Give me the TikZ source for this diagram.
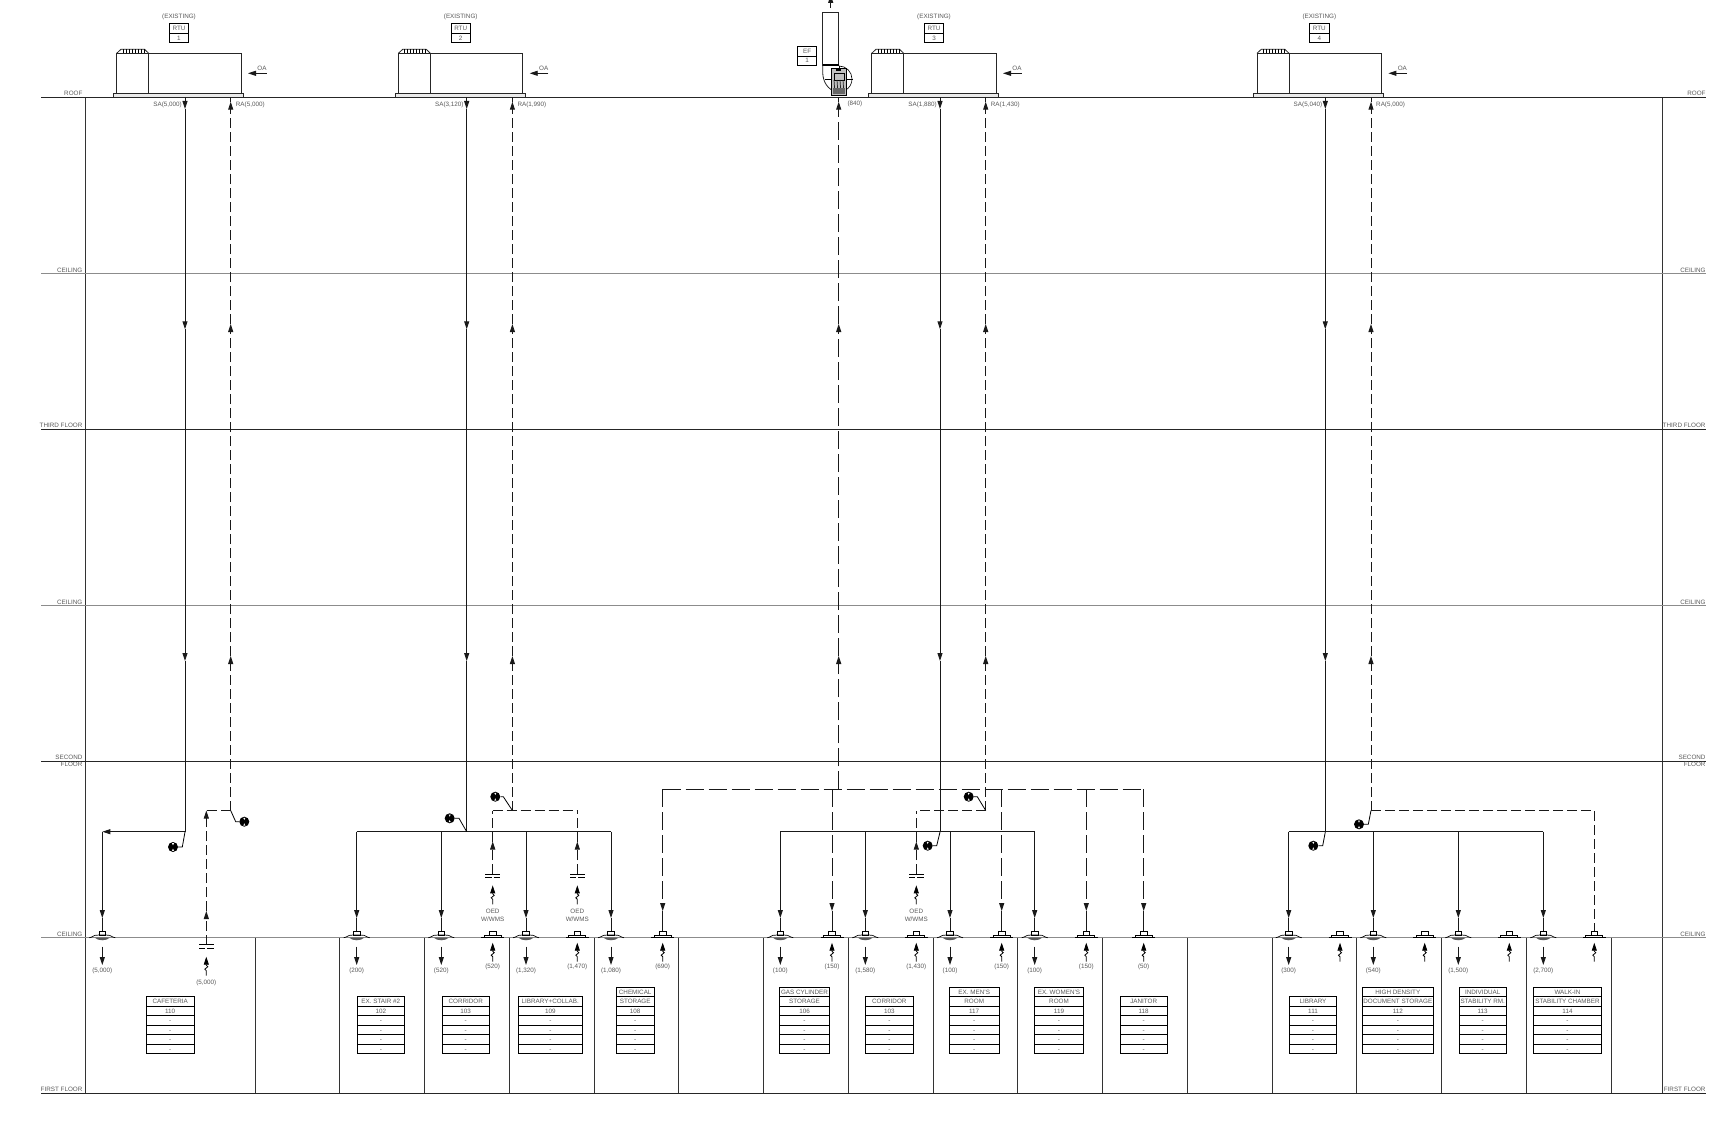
\documentclass[tikz,border=0pt]{standalone}
\usepackage{fontspec}
\setmainfont{Liberation Sans}
\usetikzlibrary{positioning,arrows.meta}

\tikzset{
  diffuser/.pic={
    \draw[line width=.7pt] (-3.3,-6.4) rectangle (3.3,-2.7);
    \draw[line width=.7pt] (-13,0) -- (-11,-.5) .. controls (-9,-2.4) and (-6,-2.7) .. (-3.3,-2.7) -- (3.3,-2.7) .. controls (6,-2.7) and (9,-2.4) .. (11,-.5) -- (13,0);
    \fill[black!65] (-7.5,0) .. controls (-4,3.4) and (4,3.4) .. (7.5,0) -- cycle;
  },
  grille/.pic={
    \draw[line width=.7pt] (-3.3,-6.4) rectangle (3.3,-2.4);
    \draw[line width=.7pt] (-8.5,0) -- (-8.5,-2.4) -- (8.5,-2.4) -- (8.5,0);
    \draw[line width=.7pt] (-11.5,-.2) -- (11.5,-.2);
  },
  zigtip/.pic={
    \draw[line width=.8pt,-{Triangle[length=8pt,width=5pt]}] (0,19) -- (0,14) -- (-1.5,12.5) -- (1.5,10) -- (0,8.5) -- (0,0);
  },
  caps/.pic={
    \draw[line width=.8pt] (-7.3,0) -- (7.3,0);
    \draw[line width=.8pt,dash pattern=on 6.3pt off 2pt] (-7.3,3.6) -- (7.3,3.6);
  }
}

% unit on the roof, with its two risers
\newcommand{\rtuunit}[3]{%
\begin{scope}[shift={(#2,0)}]
  \draw[unit, fill=black!8] (113.3,93.3) rectangle (243.3,97.3);
  \draw[unit] (116.7,93.3) -- (116.7,53.3) -- (241,53.3) -- (241,93.3);
  \draw[unit] (148.7,53.3) -- (148.7,93.3);
  \draw[unit] (116.7,53.3) -- (121,49.3) -- (144.5,49.3) -- (148.7,53.3);
  \foreach \t in {123,126,...,144} \draw[line width=.7pt] (\t,49.3) -- (\t,53.3);
  \node[lbl] (#1ex) at (179,17) {(EXISTING)};
  \node[tagrow, minimum width=19.4pt] (#1tagb) at (179,38) {#3};
  \node[tagrow, minimum width=19.4pt, above=0pt of #1tagb] (#1taga) {RTU};
  \coordinate (#1oab) at (266.7,73.3);
  \coordinate (#1oaa) at (248,73.3);
  \draw[duct, flow] (#1oab) -- (#1oaa);
  \node[lbl] (#1oa) at (262,68.3) {OA};
  \coordinate (#1sa) at (185,97.3);
  \coordinate (#1sa1) at (185,109);
  \coordinate (#1sa2) at (185,329.3);
  \coordinate (#1sa3) at (185,661);
  \coordinate (#1sb) at (185,831.7);
  \coordinate (#1ra) at (230.7,97.3);
  \coordinate (#1ra1) at (230.7,101.7);
  \coordinate (#1ra2) at (230.7,324);
  \coordinate (#1ra3) at (230.7,656);
  \coordinate (#1rb) at (230.7,810.5);
  \draw[duct, flow] (#1sa) -- (#1sa1);
  \draw[duct, flow] (#1sa1) -- (#1sa2);
  \draw[duct, flow] (#1sa2) -- (#1sa3);
  \draw[duct] (#1sa3) -- (#1sb);
  \draw[retn, flow] (#1rb) -- (#1ra3);
  \draw[retn, flow] (#1ra3) -- (#1ra2);
  \draw[retn] (#1ra2) -- (230.7,110);
  \draw[duct, flow] (230.7,110) -- (#1ra1);
  \draw[duct] (#1ra1) -- (#1ra);
\end{scope}}

% supply diffuser at the ceiling
\newcommand{\supplydrop}[4]{%
  \coordinate (#1top) at (#2,#4);
  \coordinate (#1tip) at (#2,918);
  \coordinate (#1) at (#2,931.3);
  \draw[duct, flow] (#1top) -- (#1tip);
  \draw[duct] (#1tip) -- (#1);
  \pic at (#2,937.7) {diffuser};
  \coordinate (#1a) at (#2,946.7);
  \coordinate (#1b) at (#2,965);
  \draw[duct, flow] (#1a) -- (#1b);
  \node[lbl] (#1lbl) at (#2,971) {#3};
}

% return grille at the ceiling
\newcommand{\grilleat}[2]{%
  \coordinate (#1) at (#2,931.3);
  \pic at (#2,937.7) {grille};
  \pic at (#2,942.7) {zigtip};
}

% room schedule, from the bottom row upward
\newcommand{\roomtag}[5]{%
  \node[tagrow, minimum width=#3pt, anchor=south] (#1a) at (#2,1053.7) {-};
  \node[tagrow, minimum width=#3pt, above=0pt of #1a] (#1b) {-};
  \node[tagrow, minimum width=#3pt, above=0pt of #1b] (#1c) {-};
  \node[tagrow, minimum width=#3pt, above=0pt of #1c] (#1d) {-};
  \node[tagrow, minimum width=#3pt, above=0pt of #1d] (#1e) {#4};
  \node[tagrow, minimum width=#3pt, above=0pt of #1e] (#1f) {#5};
}
\newcommand{\roomtop}[3]{%
  \node[tagrow, minimum width=#2pt, above=0pt of #1f] (#1g) {#3};
}

% damper bullet with its leader
\newcommand{\damper}[6]{%
  \node[damp] (#1) at (#2,#3) {};
  \fill[white] (#2-1,#3-3.8) -- (#2+1,#3-3.8) -- (#2,#3-1.6) -- cycle;
  \fill[white] (#2-1,#3+3.8) -- (#2+1,#3+3.8) -- (#2,#3+1.6) -- cycle;
  \coordinate (#1k) at (#4,#3);
  \draw[line width=.8pt] (#1) -- (#1k) -- (#5,#6);
}

% offset (OED) caps, riser arrow and labels
\newcommand{\oedcap}[3]{%
  \coordinate (#1) at (#2,874);
  \coordinate (#1tip) at (#2,841.5);
  \coordinate (#1top) at (#2,#3);
  \pic at (#1) {caps};
  \pic at (#2,885.3) {zigtip};
  \draw[retn, flow] (#1) -- (#1tip);
  \draw[retn] (#1tip) -- (#1top);
  \node[lbl] (#1la) at (#2,911.7) {OED};
  \node[lbl] (#1lb) at (#2,919.7) {W/WMS};
}

\begin{document}
\begin{tikzpicture}[x=1pt,y=-1pt]
\tikzstyle{level} = [line width=.8pt, black!85]
\tikzstyle{ceil} = [line width=.8pt, black!45]
\tikzstyle{wall} = [line width=.8pt, black!80]
\tikzstyle{unit} = [line width=.8pt, black!85]
\tikzstyle{duct} = [line width=.9pt, black!90]
\tikzstyle{retn} = [line width=.9pt, black!90, dash pattern=on 10pt off 4pt]
\tikzstyle{exhs} = [line width=.9pt, black!90, dash pattern=on 18pt off 5pt]
\tikzstyle{flow} = [-{Triangle[length=8pt,width=5pt]}]
\tikzstyle{lbl} = [font=\fontsize{6.3}{7}\selectfont, text=black!65, inner sep=0pt]
\tikzstyle{tagrow} = [draw, line width=.8pt, font=\fontsize{6.3}{7}\selectfont, text=black!65, inner sep=0pt, outer sep=0pt, minimum height=9.5pt, text height=4.6pt, text depth=0pt]
\tikzstyle{damp} = [circle, fill=black, inner sep=0pt, minimum size=10pt]

\useasboundingbox (0,0) rectangle (1727,1121);
\fill[white] (0,0) rectangle (1727,1121);

% levels
\coordinate (wl) at (85.7,97.3);
\coordinate (wlb) at (85.7,1093);
\coordinate (wr) at (1662,97.3);
\coordinate (wrb) at (1662,1093);
\draw[wall] (wl) -- (wlb);
\draw[wall] (wr) -- (wrb);
\foreach \y/\s/\t in {97.3/level/ROOF, 273.6/ceil/CEILING, 429/level/THIRD FLOOR, 605.5/ceil/CEILING, 937.7/ceil/CEILING, 1093/level/FIRST FLOOR} {
  \draw[\s] (41,\y) -- (1705.7,\y);
  \node[lbl, anchor=east] (ll\y) at (82.6,\y-3.6) {\t};
  \node[lbl, anchor=east] (lr\y) at (1705.7,\y-3.6) {\t};
}
\draw[level] (41,761) -- (1705.7,761);
\node[lbl, anchor=east] (lsa) at (82.6,757.8) {SECOND};
\node[lbl, anchor=east] (lsb) at (82.6,764.4) {FLOOR};
\node[lbl, anchor=east] (rsa) at (1705.7,757.8) {SECOND};
\node[lbl, anchor=east] (rsb) at (1705.7,764.4) {FLOOR};

% room walls
\foreach \x in {255,339.7,424.7,509.3,594.3,678.7,763.3,848.3,933,1017.7,1102.3,1187.3,1272,1356.7,1441.3,1526.3,1611}
  \draw[wall] (\x,937.7) -- (\x,1093);

% units
\rtuunit{one}{0}{1}
\rtuunit{two}{281.7}{2}
\rtuunit{thr}{755}{3}
\rtuunit{fou}{1140.3}{4}
\node[lbl, anchor=east] (sa1) at (182,105) {SA(5,000)};
\node[lbl, anchor=west] (ra1) at (235.7,105) {RA(5,000)};
\node[lbl, anchor=east] (sa2) at (463.7,105) {SA(3,120)};
\node[lbl, anchor=west] (ra2) at (517.4,105) {RA(1,990)};
\node[lbl, anchor=east] (sa3) at (937,105) {SA(1,880)};
\node[lbl, anchor=west] (ra3) at (990.7,105) {RA(1,430)};
\node[lbl, anchor=east] (sa4) at (1322.3,105) {SA(5,040)};
\node[lbl, anchor=west] (ra4) at (1376,105) {RA(5,000)};

% exhaust fan
\draw[unit] (822.7,65) rectangle (838.7,12.3);
\draw[line width=1.5pt] (822.7,65) -- (838.7,65);
\coordinate (ef) at (830.7,8);
\coordinate (efo) at (830.7,-5);
\draw[duct, flow] (ef) -- (efo);
\draw[unit] (822.7,65) -- (822.7,72) .. controls (822.7,82) and (828,90) .. (836.7,92);
\draw[line width=.6pt] (839,66) arc (-90:60:13);
\draw[line width=.5pt] (825,79) -- (853,79);
\draw[line width=.5pt] (839,66) -- (839,95);
\draw[line width=.9pt, fill=black!25] (831,68.3) rectangle (846.7,95);
\fill[black] (836,69.5) rectangle (841,71.5);
\draw[line width=.6pt] (834,73) rectangle (844,80);
\foreach \t in {834,837,840,843} \draw[line width=.7pt, black!85] (\t,80) -- (\t+1,94);
\fill[black!60] (833,88) rectangle (845,94.5);
\node[tagrow, minimum width=19pt] (efb) at (807.2,60.7) {1};
\node[tagrow, minimum width=19pt, above=0pt of efb] (efa) {EF};
\node[lbl, anchor=west] (ef840) at (847.3,103.7) {(840)};
\coordinate (exa) at (838.7,97.3);
\coordinate (exb) at (838.7,101.7);
\coordinate (exc) at (838.7,324);
\coordinate (exd) at (838.7,656);
\coordinate (exe) at (838.7,789.3);
\draw[exhs, flow] (exe) -- (exd);
\draw[exhs, flow] (exd) -- (exc);
\draw[exhs] (exc) -- (838.7,110);
\draw[duct, flow] (838.7,110) -- (exb);
\draw[duct] (exb) -- (exa);

% unit 1 : cafeteria
\coordinate (cb) at (102.3,831.7);
\draw[duct, flow] (onesb) -- (cb);
\supplydrop{caf}{102.3}{(5,000)}{831.7}
\damper{dmpa}{173}{847}{182.3}{185}{832}
\damper{dmpb}{244.3}{821.7}{235.7}{230.7}{810.5}
\coordinate (cr) at (206.3,810.5);
\coordinate (crm) at (206.3,911);
\coordinate (crb) at (206.3,944.7);
\draw[retn] (onerb) -- (cr);
\draw[retn, flow] (crb) -- (crm);
\draw[retn, flow] (crm) -- (cr);
\pic at (crb) {caps};
\pic at (206.3,956.7) {zigtip};
\node[lbl] (crl) at (206.3,982.7) {(5,000)};

% unit 2
\coordinate (bl2) at (356.7,831.7);
\coordinate (br2) at (611,831.7);
\draw[duct] (bl2) -- (br2);
\supplydrop{sb}{356.7}{(200)}{831.7}
\supplydrop{sc}{441.3}{(520)}{831.7}
\supplydrop{sd}{526}{(1,320)}{831.7}
\supplydrop{se}{611}{(1,080)}{831.7}
\damper{dmpc}{449.7}{818.3}{459}{466.7}{831.7}
\damper{dmpd}{495.3}{796.7}{503.3}{512.4}{810.5}
\coordinate (rl2) at (492.7,810.5);
\coordinate (rr2) at (577.3,810.5);
\draw[retn] (rl2) -- (rr2);
\oedcap{oa}{492.7}{810.5}
\oedcap{ob}{577.3}{810.5}
\grilleat{rc}{492.7}
\node[lbl] (rcl) at (492.7,967.3) {(520)};
\grilleat{rd}{577.3}
\node[lbl] (rdl) at (577.3,967.3) {(1,470)};

% exhaust branch
\coordinate (xl) at (662.7,789.3);
\coordinate (xr) at (1143.7,789.3);
\draw[exhs] (xl) -- (xr);
\foreach \n/\x/\t in {xa/662.7/(690), xb/832/(150), xc/1001.7/(150), xd/1086.3/(150), xe/1143.7/(50)} {
  \coordinate (\n top) at (\x,789.3);
  \coordinate (\n tip) at (\x,911);
  \coordinate (\n) at (\x,931.3);
  \draw[exhs, flow] (\n top) -- (\n tip);
  \draw[duct] (\n tip) -- (\n);
  \grilleat{\n g}{\x}
  \node[lbl] (\n l) at (\x,967.3) {\t};
}

% unit 3
\coordinate (bl3) at (780.3,831.7);
\coordinate (br3) at (1034.7,831.7);
\draw[duct] (bl3) -- (br3);
\supplydrop{sf}{780.3}{(100)}{831.7}
\supplydrop{sg}{865.3}{(1,580)}{831.7}
\supplydrop{sh}{950}{(100)}{831.7}
\supplydrop{si}{1034.7}{(100)}{831.7}
\damper{dmpe}{927.7}{845.7}{936.7}{940}{832}
\damper{dmpf}{968.7}{796.7}{977.3}{985.7}{810.5}
\coordinate (rl3) at (916.3,810.5);
\draw[retn] (thrrb) -- (rl3);
\oedcap{oc}{916.3}{810.5}
\grilleat{rg}{916.3}
\node[lbl] (rgl) at (916.3,967.3) {(1,430)};

% unit 4
\coordinate (bl4) at (1288.7,831.7);
\coordinate (br4) at (1543.3,831.7);
\draw[duct] (bl4) -- (br4);
\supplydrop{sj}{1288.7}{(300)}{831.7}
\supplydrop{sk}{1373.3}{(540)}{831.7}
\supplydrop{sl}{1458.3}{(1,500)}{831.7}
\supplydrop{sm}{1543.3}{(2,700)}{831.7}
\damper{dmpg}{1313.3}{845.7}{1322.7}{1325.3}{832}
\damper{dmph}{1359}{824.3}{1368.3}{1371}{810.5}
\coordinate (rr4) at (1594.3,810.5);
\coordinate (rd4) at (1594.3,931.3);
\draw[retn] (fourb) -- (rr4) -- (rd4);
\grilleat{rj}{1340}
\grilleat{rk}{1424.7}
\grilleat{rl}{1509.3}
\grilleat{rm}{1594.3}

% room schedules
\roomtag{tcaf}{170.2}{47.7}{110}{CAFETERIA}
\roomtag{tsta}{380.8}{47}{102}{EX. STAIR \#2}
\roomtag{tcoa}{465.7}{47.3}{103}{CORRIDOR}
\roomtag{tlib}{550.3}{64}{109}{LIBRARY+COLLAB.}
\roomtag{tche}{635.2}{37.7}{108}{STORAGE}
\roomtop{tche}{37.7}{CHEMICAL}
\roomtag{tgas}{804.5}{49.6}{106}{STORAGE}
\roomtop{tgas}{49.6}{GAS CYLINDER}
\roomtag{tcob}{889.3}{47.3}{103}{CORRIDOR}
\roomtag{tmen}{974.2}{49.7}{117}{ROOM}
\roomtop{tmen}{49.7}{EX. MEN'S}
\roomtag{twom}{1059}{49.4}{119}{ROOM}
\roomtop{twom}{49.4}{EX. WOMEN'S}
\roomtag{tjan}{1143.7}{47.3}{118}{JANITOR}
\roomtag{tlid}{1313}{47.4}{111}{LIBRARY}
\roomtag{thig}{1397.8}{71}{112}{DOCUMENT STORAGE}
\roomtop{thig}{71}{HIGH DENSITY}
\roomtag{tind}{1482.7}{47.3}{113}{STABILITY RM.}
\roomtop{tind}{47.3}{INDIVIDUAL}
\roomtag{twal}{1567.5}{68.4}{114}{STABILITY CHAMBER}
\roomtop{twal}{68.4}{WALK-IN}
\end{tikzpicture}
\end{document}
